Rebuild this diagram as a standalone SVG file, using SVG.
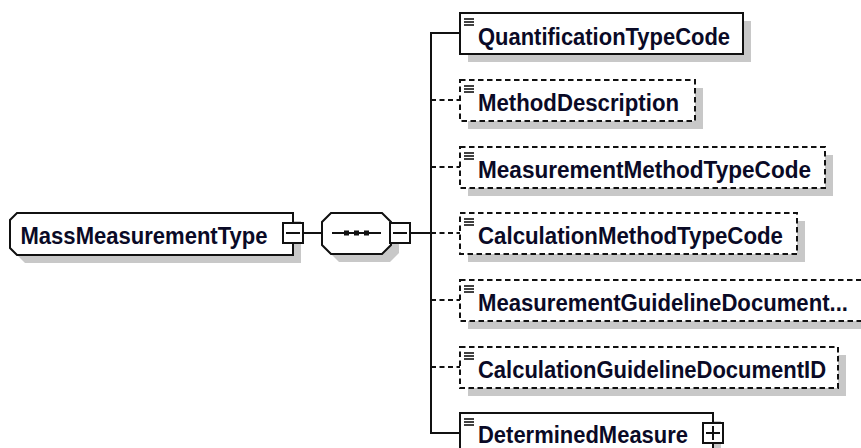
<svg xmlns="http://www.w3.org/2000/svg" xmlns:xlink="http://www.w3.org/1999/xlink" width="861" height="448" viewBox="0 0 861 448">
  <style>
    .shadow { fill: #c8c8c8; }
    .box { fill: #ffffff; stroke: #111111; stroke-width: 2; }
    .opt { stroke-dasharray: 5.5 3.5; }
    .label { font-family: "Liberation Sans", Arial, sans-serif; font-weight: bold; font-size: 23.5px; fill: #0a0a26; }
    .conn { fill: none; stroke: #111111; stroke-width: 2; }
    .conn-opt { fill: none; stroke: #111111; stroke-width: 2; stroke-dasharray: 5 3.5; }
    .sign { fill: none; stroke: #111111; stroke-width: 2; }
    .icon line { stroke: #111111; stroke-width: 1.6; }
  </style>
  <defs>
    <!-- simple-content marker shown in the top-left corner of element boxes -->
    <g id="listIcon" class="icon">
      <line x1="4" y1="6" x2="14" y2="6"/>
      <line x1="4" y1="9" x2="14" y2="9"/>
      <line x1="4" y1="12" x2="14" y2="12"/>
    </g>
  </defs>

  <rect width="861" height="448" fill="#ffffff"/>

  <!-- connectors -->
  <g id="connectors">
    <line class="conn" x1="303" y1="233" x2="322" y2="233"/>
    <line class="conn" x1="410" y1="233" x2="431" y2="233"/>
    <path class="conn" d="M460,33 H431 V433 H460"/>
    <line class="conn-opt" x1="431" y1="100" x2="460" y2="100"/>
    <line class="conn-opt" x1="431" y1="167" x2="460" y2="167"/>
    <line class="conn-opt" x1="431" y1="233" x2="460" y2="233"/>
    <line class="conn-opt" x1="431" y1="300" x2="460" y2="300"/>
    <line class="conn-opt" x1="431" y1="367" x2="460" y2="367"/>
  </g>

  <!-- complex type -->
  <g id="MassMeasurementType">
    <polygon class="shadow" points="25,221 301,221 301,263 25,263 18,256 18,228"/>
    <polygon class="box" points="17,213 293,213 293,255 17,255 10,248 10,220"/>
    <text class="label" x="20.5" y="243.5" textLength="247" lengthAdjust="spacingAndGlyphs">MassMeasurementType</text>
    <rect class="box" x="283" y="223" width="20" height="20"/>
    <line class="sign" x1="286" y1="233" x2="300" y2="233"/>
  </g>

  <!-- sequence compositor -->
  <g id="sequence">
    <polygon class="shadow" points="339,221 390,221 399,230 399,253 390,262 339,262 330,253 330,230"/>
    <polygon class="box" points="331,213 382,213 391,222 391,245 382,254 331,254 322,245 322,222"/>
    <line class="conn" x1="332" y1="233" x2="381" y2="233"/>
    <rect x="344" y="230.5" width="5" height="5" fill="#111111"/>
    <rect x="354" y="230.5" width="5" height="5" fill="#111111"/>
    <rect x="364" y="230.5" width="5" height="5" fill="#111111"/>
    <rect class="box" x="390" y="223" width="20" height="20"/>
    <line class="sign" x1="393" y1="233" x2="407" y2="233"/>
  </g>

  <!-- child elements -->
  <g id="QuantificationTypeCode">
    <rect class="shadow" x="468" y="21" width="283" height="41"/>
    <rect class="box" x="460" y="13" width="283" height="41"/>
    <use xlink:href="#listIcon" x="460" y="13"/>
    <text class="label" x="478" y="45" textLength="252" lengthAdjust="spacingAndGlyphs">QuantificationTypeCode</text>
  </g>

  <g id="MethodDescription">
    <rect class="shadow" x="468" y="88" width="235" height="41"/>
    <rect class="box opt" x="460" y="80" width="235" height="41"/>
    <use xlink:href="#listIcon" x="460" y="80"/>
    <text class="label" x="478" y="111" textLength="201" lengthAdjust="spacingAndGlyphs">MethodDescription</text>
  </g>

  <g id="MeasurementMethodTypeCode">
    <rect class="shadow" x="468" y="155" width="365" height="41"/>
    <rect class="box opt" x="460" y="147" width="365" height="41"/>
    <use xlink:href="#listIcon" x="460" y="147"/>
    <text class="label" x="478" y="178" textLength="333" lengthAdjust="spacingAndGlyphs">MeasurementMethodTypeCode</text>
  </g>

  <g id="CalculationMethodTypeCode">
    <rect class="shadow" x="468" y="221" width="337" height="41"/>
    <rect class="box opt" x="460" y="213" width="337" height="41"/>
    <use xlink:href="#listIcon" x="460" y="213"/>
    <text class="label" x="478" y="244" textLength="305" lengthAdjust="spacingAndGlyphs">CalculationMethodTypeCode</text>
  </g>

  <g id="MeasurementGuidelineDocumentID">
    <rect class="shadow" x="468" y="288" width="410" height="41"/>
    <rect class="box opt" x="460" y="280" width="410" height="41"/>
    <use xlink:href="#listIcon" x="460" y="280"/>
    <text class="label" x="478" y="311" textLength="370" lengthAdjust="spacingAndGlyphs">MeasurementGuidelineDocument...</text>
  </g>

  <g id="CalculationGuidelineDocumentID">
    <rect class="shadow" x="468" y="355" width="378" height="41"/>
    <rect class="box opt" x="460" y="347" width="378" height="41"/>
    <use xlink:href="#listIcon" x="460" y="347"/>
    <text class="label" x="478" y="378" textLength="348" lengthAdjust="spacingAndGlyphs">CalculationGuidelineDocumentID</text>
  </g>

  <g id="DeterminedMeasure">
    <rect class="shadow" x="468" y="421" width="253" height="41"/>
    <rect class="box" x="460" y="413" width="253" height="41"/>
    <use xlink:href="#listIcon" x="460" y="413"/>
    <text class="label" x="478" y="443" textLength="210" lengthAdjust="spacingAndGlyphs">DeterminedMeasure</text>
    <rect class="box" x="703" y="423" width="20" height="20"/>
    <line class="sign" x1="706" y1="433" x2="720" y2="433"/>
    <line class="sign" x1="713" y1="426" x2="713" y2="440"/>
  </g>
</svg>
